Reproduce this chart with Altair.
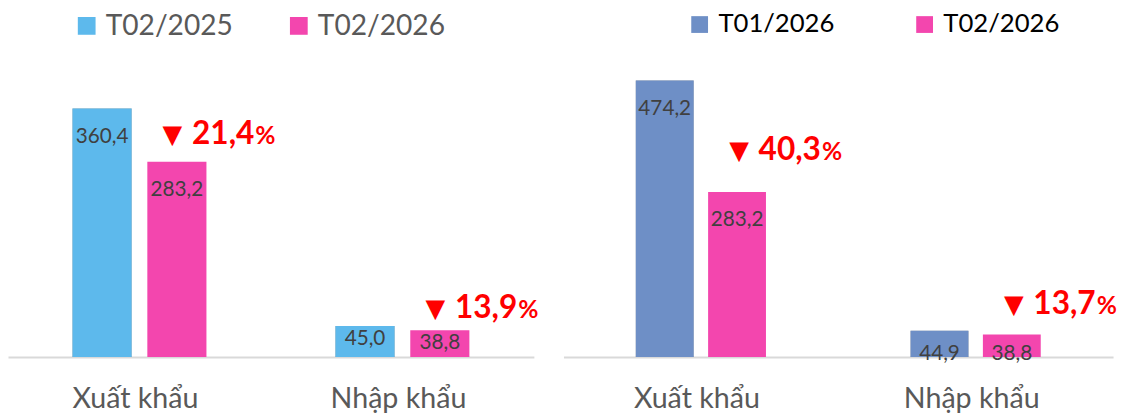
import altair as alt
import pandas as pd

categories = ["Xuất khẩu", "Nhập khẩu"]

left_series = ["T02/2025", "T02/2026"]
left_prev = [360.4, 45.0]
left_curr = [283.2, 38.8]
left_change = ["21,4", "13,9"]
left_ann_level = [309, 56]

right_series = ["T01/2026", "T02/2026"]
right_prev = [474.2, 44.9]
right_curr = [283.2, 38.8]
right_change = ["40,3", "13,7"]
right_ann_level = [338, 73]

FONT = "Lato"
RED = "#FF0000"


def fmt(v):
    return f"{v:.1f}".replace(".", ",")


def panel(series, prev, curr, change, ann_level, colors, ymax, width, height,
          p_inner, p_outer, legend_x, legend_y, legend_label_color, legend_size,
          legend_font_size, legend_label_offset, legend_col_pad,
          small_mode, small_dy, ann_dx):
    rows = []
    for i, c in enumerate(categories):
        rows.append({"cat": c, "series": series[0], "value": prev[i], "label": fmt(prev[i])})
        rows.append({"cat": c, "series": series[1], "value": curr[i], "label": fmt(curr[i])})
    df = pd.DataFrame(rows)
    ann = pd.DataFrame({
        "cat": categories,
        "series": [series[1]] * len(categories),
        "level": ann_level,
        "num": change,
    })

    x = alt.X("cat:N", sort=categories,
              scale=alt.Scale(paddingInner=0, paddingOuter=0),
              axis=alt.Axis(title=None, labelAngle=0, ticks=False,
                            domainColor="#D9D9D9", domainWidth=2,
                            labelFont=FONT, labelFontSize=29, labelOffset=-4,
                            labelColor="#595959", labelPadding=28))
    xo = alt.XOffset("series:N", sort=series,
                     scale=alt.Scale(paddingInner=p_inner, paddingOuter=p_outer))
    yscale = alt.Scale(domain=[0, ymax])
    y = alt.Y("value:Q", scale=yscale, axis=None)

    base = alt.Chart(df)

    shadow1 = base.transform_filter(alt.datum.series == series[0]).mark_bar(
        color="#000000", opacity=0.12, xOffset=-4, y2Offset=2
    ).encode(x=x, xOffset=xo, y=y)
    shadow2 = base.transform_filter(alt.datum.series == series[0]).mark_bar(
        color="#000000", opacity=0.25, xOffset=-2, y2Offset=2
    ).encode(x=x, xOffset=xo, y=y)

    bars = base.mark_bar().encode(
        x=x, xOffset=xo, y=y,
        color=alt.Color("series:N", sort=series,
                        scale=alt.Scale(domain=series, range=colors),
                        legend=alt.Legend(
                            title=None, orient="none", direction="horizontal",
                            legendX=legend_x, legendY=legend_y, padding=0,
                            symbolType="square", symbolSize=legend_size,
                            symbolStrokeWidth=0, symbolOpacity=1,
                            labelFont=FONT, labelFontSize=legend_font_size,
                            labelColor=legend_label_color, labelLimit=300,
                            labelOffset=legend_label_offset,
                            columnPadding=legend_col_pad)),
    )

    big = base.transform_filter(alt.datum.value > 100).mark_text(
        font=FONT, fontSize=21, color="#404040", baseline="alphabetic", dy=35
    ).encode(x=x, xOffset=xo, y=y, text="label:N")

    if small_mode == "top":
        small = base.transform_filter(alt.datum.value <= 100).mark_text(
            font=FONT, fontSize=21, color="#404040", baseline="alphabetic", dy=small_dy
        ).encode(x=x, xOffset=xo, y=y, text="label:N")
    else:
        small = base.transform_filter(alt.datum.value <= 100).mark_text(
            font=FONT, fontSize=21, color="#404040", baseline="alphabetic", dy=small_dy
        ).encode(x=x, xOffset=xo, y=alt.Y(datum=0, scale=yscale, axis=None), text="label:N")

    abase = alt.Chart(ann)
    ya = alt.Y("level:Q", scale=yscale, axis=None)
    tri = abase.mark_text(font="DejaVu Sans", fontSize=26, color=RED,
                          baseline="alphabetic", align="center",
                          dx=-3 + ann_dx, dy=-1).encode(
        x=x, xOffset=xo, y=ya, text=alt.value("▼"))
    num = abase.mark_text(font=FONT, fontSize=32, fontWeight="bold", color=RED,
                          baseline="alphabetic", align="right",
                          dx=80 + ann_dx).encode(
        x=x, xOffset=xo, y=ya, text="num:N")
    pct = abase.mark_text(font=FONT, fontSize=25, fontWeight="bold", color=RED,
                          baseline="alphabetic", align="left",
                          dx=81 + ann_dx).encode(
        x=x, xOffset=xo, y=ya, text=alt.value("%"))

    return alt.layer(shadow1, shadow2, bars, big, small, tri, num, pct).properties(
        width=width, height=height)


left = panel(left_series, left_prev, left_curr, left_change, left_ann_level,
             ["#5DB9EC", "#F346AE"], 502, 533, 351, 0.21, 0.862,
             65.5, 1, "#595959", 324, 28.5, 5, 52, "top", 19, -1.5)
right = panel(right_series, right_prev, right_curr, right_change, right_ann_level,
              ["#6E8FC6", "#F346AE"], 594, 557, 351, 0.2, 1.0,
              125, 1, "#000000", 289, 26, 6, 78, "zero", 3, 5)

chart = alt.hconcat(left, right, spacing=25).resolve_scale(
    color="independent", x="independent", y="independent", xOffset="independent"
).properties(padding=0, background="#FFFFFF").configure_view(stroke=None)

chart.save("out.html", embed_options={"renderer": "svg", "actions": False})
